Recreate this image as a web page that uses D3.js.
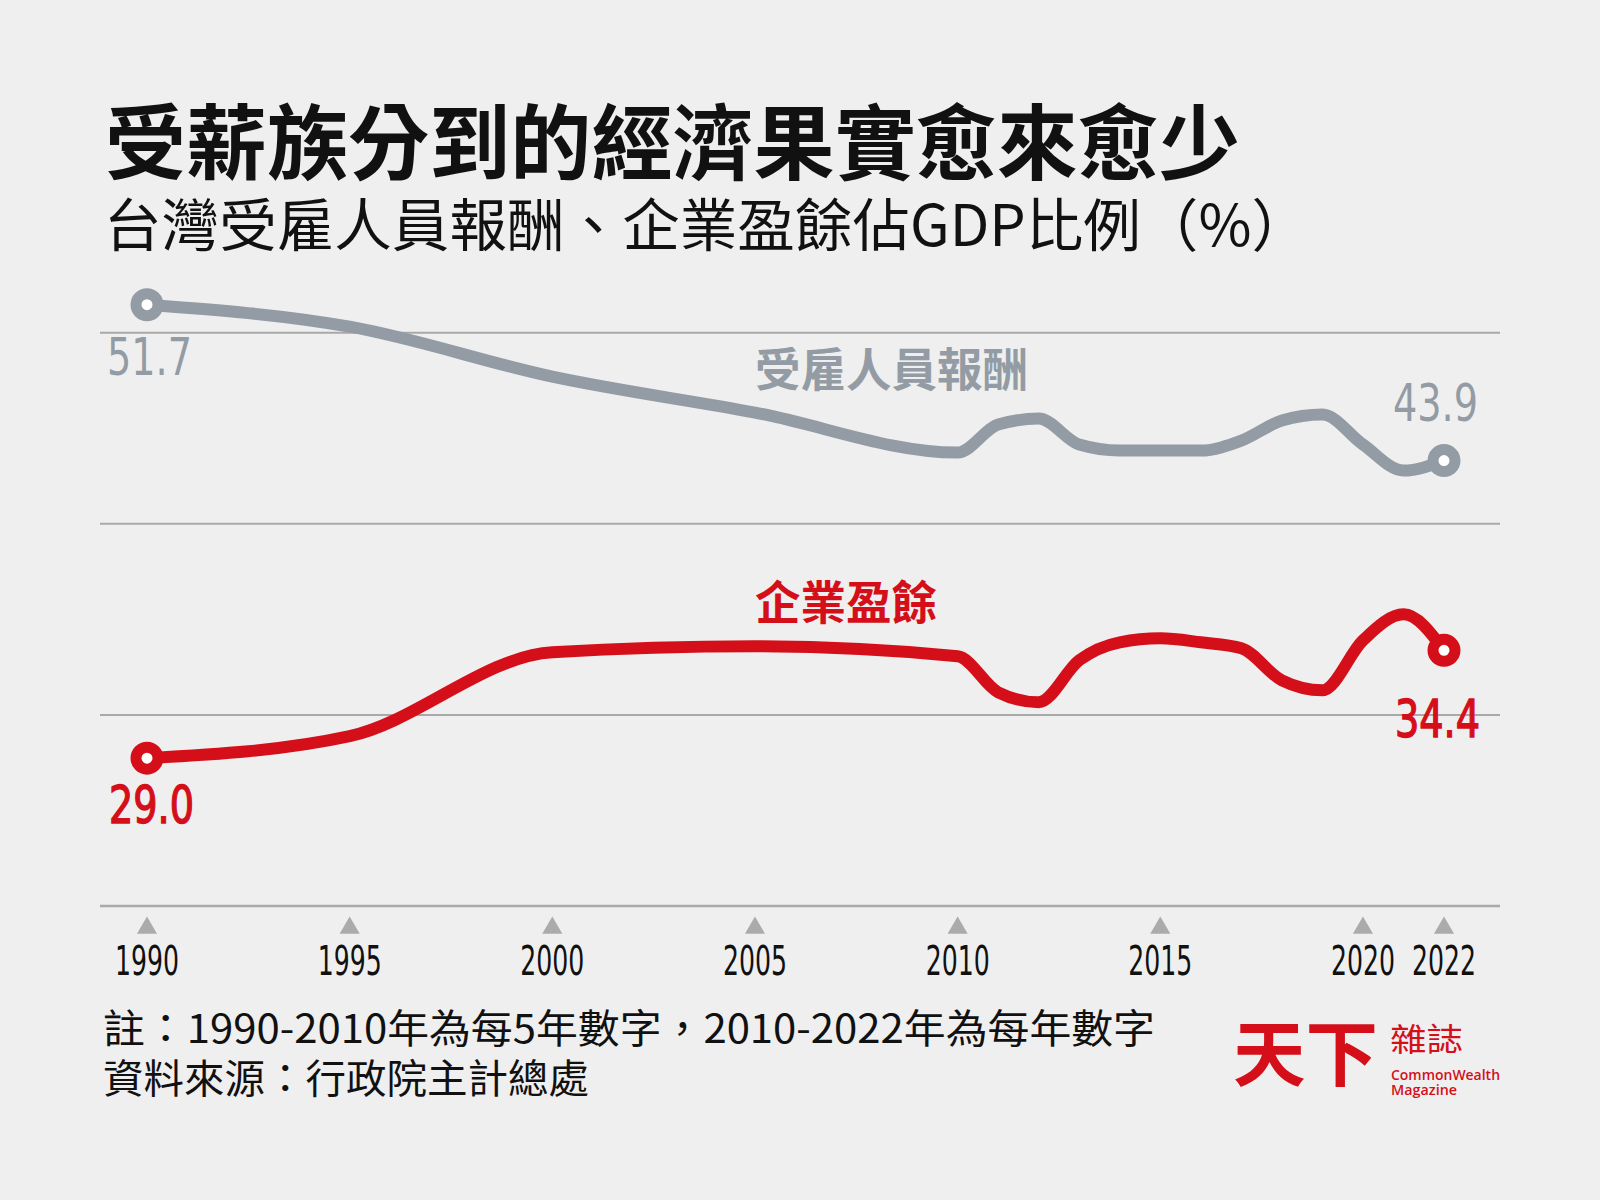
<!DOCTYPE html>
<html>
<head>
<meta charset="utf-8">
<script src="https://cdn.jsdelivr.net/npm/d3@7"></script>
<style>
  body { margin: 0; background: #efefef; }
  svg { display: block; }
</style>
</head>
<body>
<div id="chart"></div>
<script>
// data (% of GDP)
const years = [1990, 1995, 2000, 2005, 2010, 2011, 2012, 2013, 2014, 2015, 2016, 2017, 2018, 2019, 2020, 2021, 2022];
const compensation = [51.7, 50.6, 48.1, 46.3, 44.3, 45.7, 46.0, 44.7, 44.4, 44.4, 44.4, 44.9, 45.9, 46.2, 44.7, 43.4, 43.9];
const surplus = [29.0, 30.1, 34.3, 34.6, 34.1, 32.3, 31.8, 33.9, 34.8, 35.0, 34.8, 34.5, 32.9, 32.4, 34.9, 36.2, 34.4];
const tickYears = [1990, 1995, 2000, 2005, 2010, 2015, 2020, 2022];

const titleText = "受薪族分到的經濟果實愈來愈少";
const subtitleText = "台灣受雇人員報酬、企業盈餘佔GDP比例（%）";
const seriesNames = ["受雇人員報酬", "企業盈餘"];
const noteLines = ["註：1990-2010年為每5年數字，2010-2022年為每年數字", "資料來源：行政院主計總處"];

const width = 1600;
const height = 1200;
const grey = "#939ca4";
const red = "#d50f1a";
const cjk = "'Noto Sans CJK TC', 'Noto Sans CJK SC', sans-serif";
const narrow = "'Liberation Sans Narrow', 'DejaVu Sans Condensed', 'Roboto', sans-serif";

const svg = d3.select("#chart")
  .append("svg")
  .attr("width", width)
  .attr("height", height);

svg.append("rect")
  .attr("width", width)
  .attr("height", height)
  .attr("fill", "#efefef");

// scales
const x = d3.scaleLinear()
  .domain([1990, 2022])
  .range([147, 1444]);

const y = d3.scaleLinear()
  .domain([21.6, 50.3])
  .range([906, 332.7]);

// four evenly spaced rules over the y domain
const yd = y.domain();
const rules = d3.range(4).map(i => yd[0] + i * (yd[1] - yd[0]) / 3);

svg.append("g")
  .selectAll("line")
  .data(rules)
  .enter()
  .append("line")
  .attr("x1", 100)
  .attr("x2", 1500)
  .attr("y1", d => y(d))
  .attr("y2", d => y(d))
  .attr("stroke", "#a9a9a9")
  .attr("stroke-width", (d, i) => i === 0 ? 2.5 : 2);

// titles
svg.append("text")
  .attr("x", 105)
  .attr("y", 173)
  .attr("font-family", cjk)
  .attr("font-weight", 700)
  .attr("font-size", 82)
  .attr("textLength", 1135)
  .attr("lengthAdjust", "spacingAndGlyphs")
  .attr("fill", "#111")
  .text(titleText);

svg.append("text")
  .attr("x", 104)
  .attr("y", 246)
  .attr("font-family", cjk)
  .attr("font-weight", 400)
  .attr("font-size", 57)
  .attr("textLength", 1205)
  .attr("lengthAdjust", "spacingAndGlyphs")
  .attr("fill", "#111")
  .text(subtitleText);

// x axis ticks: triangles and year labels
const ticks = svg.append("g");
ticks.selectAll("path")
  .data(tickYears)
  .enter()
  .append("path")
  .attr("d", d3.symbol(d3.symbolTriangle, 175))
  .attr("transform", d => "translate(" + x(d) + ",928)")
  .attr("fill", "#ababab");

ticks.selectAll("text")
  .data(tickYears)
  .enter()
  .append("text")
  .attr("x", d => x(d))
  .attr("y", 975)
  .attr("text-anchor", "middle")
  .attr("font-family", narrow)
  .attr("font-size", 40)
  .attr("textLength", 64)
  .attr("lengthAdjust", "spacingAndGlyphs")
  .attr("fill", "#111")
  .text(d => d);

// lines
const series = [
  { name: seriesNames[0], values: compensation, color: grey },
  { name: seriesNames[1], values: surplus, color: red }
];

const line = d3.line()
  .x((d, i) => x(years[i]))
  .y(d => y(d))
  .curve(d3.curveMonotoneX);

series.forEach(s => {
  svg.append("path")
    .datum(s.values)
    .attr("fill", "none")
    .attr("stroke", s.color)
    .attr("stroke-width", 12)
    .attr("stroke-linejoin", "round")
    .attr("d", line);

  const ends = [0, s.values.length - 1];
  svg.selectAll(null)
    .data(ends)
    .enter()
    .append("circle")
    .attr("cx", i => x(years[i]))
    .attr("cy", i => y(s.values[i]))
    .attr("r", 11)
    .attr("fill", "#fff")
    .attr("stroke", s.color)
    .attr("stroke-width", 11);
});

// end value labels
const last = years.length - 1;
const valueLabels = [
  { v: compensation[0], x: x(years[0]) - 40, y: 375, anchor: "start", color: grey, stroke: 0 },
  { v: compensation[last], x: x(years[last]) + 34, y: 421, anchor: "end", color: grey, stroke: 0 },
  { v: surplus[0], x: x(years[0]) - 38, y: 823, anchor: "start", color: red, stroke: 1.4 },
  { v: surplus[last], x: x(years[last]) + 36, y: 737, anchor: "end", color: red, stroke: 1.4 }
];

svg.append("g")
  .selectAll("text")
  .data(valueLabels)
  .enter()
  .append("text")
  .attr("x", d => d.x)
  .attr("y", d => d.y)
  .attr("text-anchor", d => d.anchor)
  .attr("font-family", narrow)
  .attr("font-size", 52)
  .attr("textLength", 85)
  .attr("lengthAdjust", "spacingAndGlyphs")
  .attr("fill", d => d.color)
  .attr("stroke", d => d.color)
  .attr("stroke-width", d => d.stroke)
  .text(d => d.v.toFixed(1));

// series names
svg.append("text")
  .attr("x", x(2005))
  .attr("y", 386)
  .attr("font-family", cjk)
  .attr("font-weight", 700)
  .attr("font-size", 46)
  .attr("textLength", 273)
  .attr("lengthAdjust", "spacingAndGlyphs")
  .attr("fill", grey)
  .text(seriesNames[0]);

svg.append("text")
  .attr("x", x(2005))
  .attr("y", 619)
  .attr("font-family", cjk)
  .attr("font-weight", 700)
  .attr("font-size", 46)
  .attr("textLength", 182)
  .attr("lengthAdjust", "spacingAndGlyphs")
  .attr("fill", red)
  .text(seriesNames[1]);

// notes
svg.append("g")
  .selectAll("text")
  .data(noteLines)
  .enter()
  .append("text")
  .attr("x", 103)
  .attr("y", (d, i) => 1043 + i * 50)
  .attr("font-family", cjk)
  .attr("font-size", 40)
  .attr("textLength", (d, i) => i === 0 ? 1052 : 486)
  .attr("lengthAdjust", "spacingAndGlyphs")
  .attr("fill", "#111")
  .text(d => d);

// logo
const logo = svg.append("g").attr("fill", red);
logo.append("text")
  .attr("x", 1233)
  .attr("y", 1080)
  .attr("font-family", cjk)
  .attr("font-weight", 700)
  .attr("font-size", 72)
  .attr("textLength", 145)
  .attr("lengthAdjust", "spacingAndGlyphs")
  .text("天下");
logo.append("text")
  .attr("x", 1390)
  .attr("y", 1051)
  .attr("font-family", cjk)
  .attr("font-size", 32)
  .attr("textLength", 73)
  .attr("lengthAdjust", "spacingAndGlyphs")
  .text("雜誌");
logo.append("text")
  .attr("x", 1391)
  .attr("y", 1080)
  .attr("font-family", "'Open Sans', sans-serif")
  .attr("font-weight", 600)
  .attr("font-size", 15)
  .attr("textLength", 109)
  .attr("lengthAdjust", "spacingAndGlyphs")
  .text("CommonWealth");
logo.append("text")
  .attr("x", 1391)
  .attr("y", 1095)
  .attr("font-family", "'Open Sans', sans-serif")
  .attr("font-weight", 600)
  .attr("font-size", 15)
  .attr("textLength", 66)
  .attr("lengthAdjust", "spacingAndGlyphs")
  .text("Magazine");
</script>
</body>
</html>
